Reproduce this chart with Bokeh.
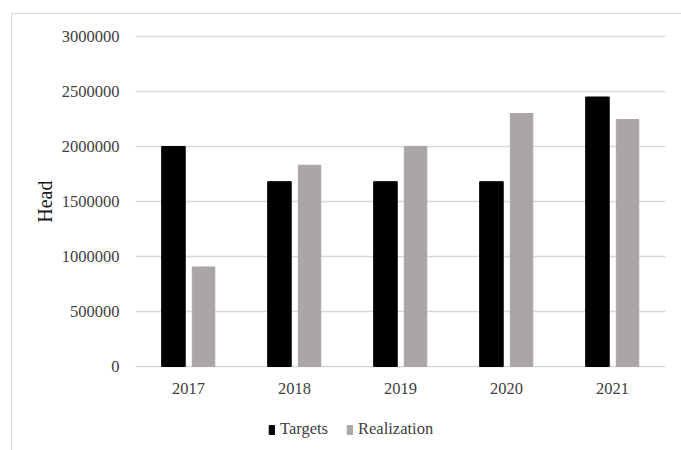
from bokeh.plotting import figure
from bokeh.models import ColumnDataSource, FactorRange, Range1d, Legend, LegendItem, FixedTicker, Title
from bokeh.core.properties import value
from bokeh.transform import dodge
from bokeh.embed import file_html
from bokeh.resources import INLINE

years = ["2017", "2018", "2019", "2020", "2021"]
targets = [2000000, 1680000, 1680000, 1680000, 2450000]
realization = [905000, 1830000, 2000000, 2300000, 2245000]
y_ticks = [0, 500000, 1000000, 1500000, 2000000, 2500000, 3000000]

src = ColumnDataSource(dict(year=years, targets=targets, realization=realization))

FONT = "Liberation Serif"
TXT = "#404040"
LINE = "#d9d9d9"
FS = "16.5px"

# frame spans y=34..450 px; value 0 sits 84 px above the bottom (110 px per million)
p = figure(width=681, height=450, x_range=FactorRange(*years, range_padding=0),
           y_range=Range1d(-763636, 3018182), output_backend="svg", toolbar_location=None,
           min_border_left=135, min_border_right=16, min_border_top=34, min_border_bottom=0)
p.outline_line_color = None
p.background_fill_color = "white"
p.border_fill_color = None
p.styles = {
    "background": (f"linear-gradient({LINE},{LINE}) 11px 13px / 1px 100% no-repeat, "
                   f"linear-gradient({LINE},{LINE}) 11px 13px / 100% 1px no-repeat, white"),
}

r1 = p.vbar(x=dodge("year", -0.142, range=p.x_range), top="targets", width=0.222,
            source=src, color="#000000")
r2 = p.vbar(x=dodge("year", 0.142, range=p.x_range), top="realization", width=0.212,
            source=src, color="#aaa6a6")

p.text(x="year", y=0, text="year", source=src, y_offset=22,
       text_align="center", text_baseline="middle",
       text_font=value(FONT), text_font_size=FS, text_color=TXT)

p.xaxis.visible = False
p.xgrid.grid_line_color = None
p.ygrid.grid_line_color = LINE
p.ygrid.grid_line_width = 1.3
p.yaxis.ticker = FixedTicker(ticks=y_ticks)
p.yaxis.formatter.use_scientific = False

ax = p.yaxis[0]
ax.axis_line_color = None
ax.major_tick_line_color = None
ax.minor_tick_line_color = None
ax.major_tick_in = 0
ax.major_tick_out = 0
ax.minor_tick_out = 0
ax.major_label_text_font = FONT
ax.major_label_text_font_size = FS
ax.major_label_text_color = TXT
ax.major_label_standoff = 16

p.add_layout(Title(text="Head", align="right", offset=146, standoff=6,
                   text_font=FONT, text_font_style="normal", text_font_size="20px",
                   text_color="#1a1a1a"), "left")

legend = Legend(items=[LegendItem(label="Targets", renderers=[r1]),
                       LegendItem(label="Realization", renderers=[r2])],
                orientation="horizontal", location=(133, 11),
                label_text_font=FONT, label_text_font_size=FS, label_text_color=TXT,
                glyph_width=7, glyph_height=11, label_standoff=5, spacing=18,
                padding=0, margin=0, border_line_color=None, background_fill_alpha=0)
p.add_layout(legend, "center")

open("out.html", "w").write(file_html(p, INLINE))
